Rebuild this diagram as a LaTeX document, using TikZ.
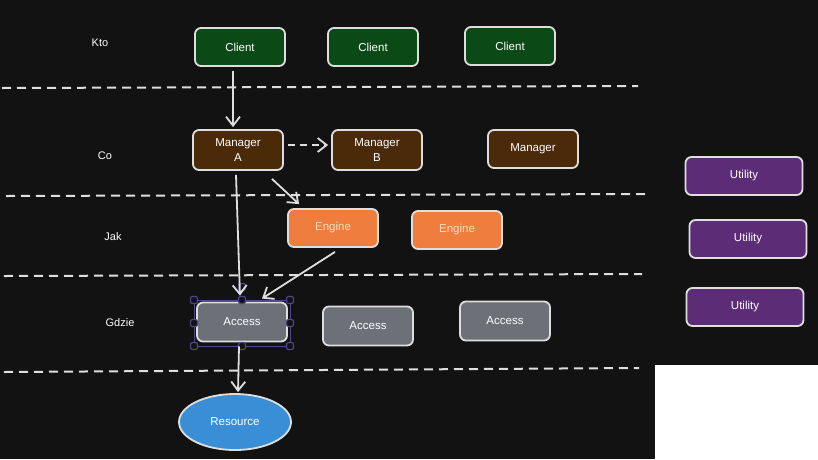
\documentclass[tikz,border=0pt]{standalone}
\usepackage{fontspec}
\setmainfont{Liberation Sans}
\usetikzlibrary{arrows.meta,calc,shapes.geometric}
\definecolor{bg}{HTML}{121212}
\definecolor{edge}{HTML}{DEDEDE}
\definecolor{cgreen}{HTML}{0B4A17}
\definecolor{cbrown}{HTML}{4B2A0A}
\definecolor{corange}{HTML}{EE7D3E}
\definecolor{cgray}{HTML}{6E7077}
\definecolor{cblue}{HTML}{3A8ED6}
\definecolor{cpurple}{HTML}{5C2C77}
\definecolor{selc}{HTML}{4E4888}
\tikzset{
  box/.style={draw=edge, line width=1.8pt, rounded corners=6pt, minimum width=90pt, minimum height=38pt, inner sep=0pt, text=white, font=\fontsize{11.5}{15}\selectfont, align=center},
  clientbox/.style={box, fill=cgreen},
  mgrbox/.style={box, fill=cbrown},
  engbox/.style={box, fill=corange, text=orange!25},
  accbox/.style={box, fill=cgray, text=white!85},
  utilbox/.style={box, fill=cpurple, minimum width=117pt},
  lane/.style={draw=edge, line width=2pt, dash pattern=on 9pt off 6pt},
  lanelabel/.style={text=white, font=\fontsize{11}{12}\selectfont},
  conn/.style={draw=edge, line width=1.8pt, -{Straight Barb[length=9pt,width=14pt,line width=1.8pt]}},
  handle/.style={draw=selc, line width=1.2pt, fill=bg, minimum size=7pt, inner sep=0pt, rounded corners=2pt},
}
\begin{document}
\begin{tikzpicture}[x=1pt,y=-1pt]
\fill[bg] (0,0) rectangle (818,459);
\useasboundingbox (0,0) rectangle (818,459);
\fill[white] (655,365) rectangle (818,459);

% lanes
\draw[lane] (2,88) -- (638,86);
\draw[lane] (6,196) -- (645,194);
\draw[lane] (4,276) -- (642,274);
\draw[lane] (4,372) -- (639,368);

% lane labels
\node[lanelabel] (lkto) at (100,43) {Kto};
\node[lanelabel] (lco) at (105,156) {Co};
\node[lanelabel] (ljak) at (113,237) {Jak};
\node[lanelabel] (lgdzie) at (120,323) {Gdzie};

% clients
\node[clientbox] (c1) at (240,47) {Client};
\node[clientbox] (c2) at (373,47) {Client};
\node[clientbox] (c3) at (510,46) {Client};

% managers
\node[mgrbox, minimum height=40pt] (mA) at (238,150) {Manager\\A};
\node[mgrbox, minimum height=40pt] (mB) at (377,150) {Manager\\B};
\node[mgrbox] (m3) at (533,149) {Manager};

% engines
\node[engbox] (e1) at (333,228) {Engine};
\node[engbox] (e2) at (457,230) {Engine};

% access
\node[accbox, minimum height=39pt] (a1) at (242,322) {Access};
\node[accbox, minimum height=39pt] (a2) at (368,326) {Access};
\node[accbox, minimum height=39pt] (a3) at (505,321) {Access};

% resource
\node[ellipse, draw=edge, line width=1.8pt, fill=cblue, minimum width=112pt, minimum height=56pt, inner sep=0pt, text=white!85, font=\fontsize{11.5}{13}\selectfont] (res) at (235,422) {Resource};

% utilities
\node[utilbox] (u1) at (744,176) {Utility};
\node[utilbox] (u2) at (748,239) {Utility};
\node[utilbox] (u3) at (745,307) {Utility};

% selection frame around a1
\draw[selc, line width=0.8pt] (194,300) rectangle (290,346);
\foreach \hx/\hy/\hn in {194/300/h1,242/300/h2,290/300/h3,194/323/h4,290/323/h5,194/346/h6,242/346/h7,290/346/h8,242/287/h9}
  \node[handle] (\hn) at (\hx,\hy) {};

% connectors
\draw[conn] ($(c1.south)+(-7,4)$) -- ($(mA.north)+(-5,-2)$);
\draw[conn, dash pattern=on 7pt off 5pt] ($(mA.east)+(4,-5)$) -- ($(mB.west)+(-3,-5)$);
\draw[conn] ($(mA.south)+(34,8)$) -- ($(e1.north west)+(12,-4)$);
\draw[conn] ($(mA.south)+(-2,4)$) -- ($(a1.north)+(-2,-6)$);
\draw[conn] ($(e1.south)+(2,4)$) -- ($(a1.north)+(20,-3)$);
\draw[conn] ($(a1.south)+(-3,4)$) -- ($(res.north)+(3,-1)$);
\end{tikzpicture}
\end{document}
